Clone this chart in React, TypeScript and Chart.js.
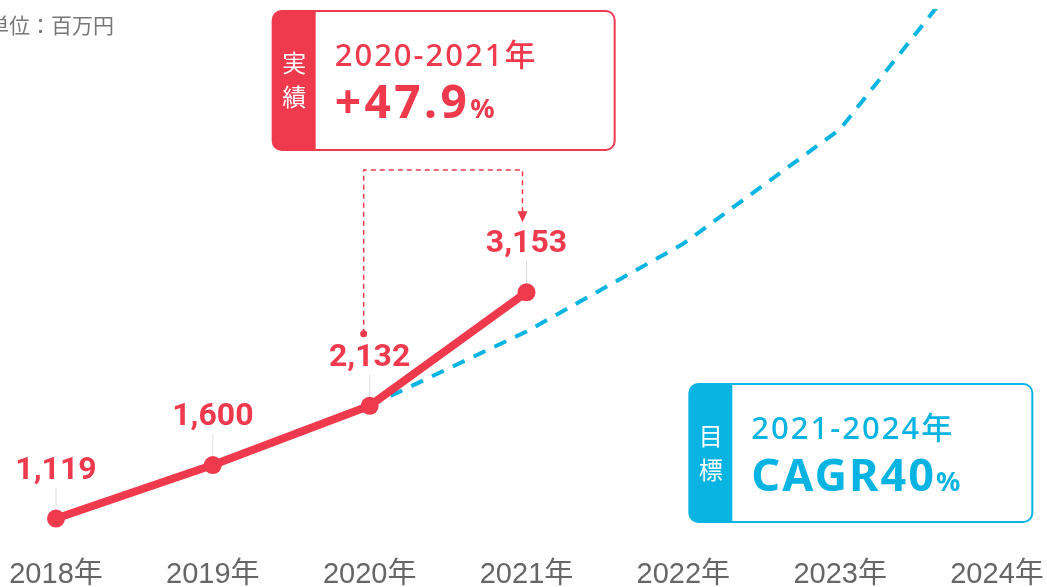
import { useEffect, useRef } from "react";
import { Chart, registerables } from "chart.js";

Chart.register(...registerables);

// ---- data ----
const categories = ["2018年", "2019年", "2020年", "2021年", "2022年", "2023年", "2024年"];
const actualValues = [1119, 1600, 2132, 3153, null, null, null];
const targetValues = [null, null, 2132, 2800, 3590, 4620, 6400];
const unitText = "単位：百万円";
const actualTag = ["実", "績"];
const actualPeriod = "2020-2021年";
const actualGrowth = "+47.9";
const targetTag = ["目", "標"];
const targetPeriod = "2021-2024年";
const targetGrowth = "CAGR40";
const percentSign = "%";

const RED = "#EE3A4C";
const CYAN = "#0AB4E2";
const JP = '"Noto Sans CJK JP", sans-serif';
const NS = '"Noto Sans", "Noto Sans CJK JP", sans-serif';

function roundRectPath(ctx: CanvasRenderingContext2D, x: number, y: number, w: number, h: number, r: number) {
  ctx.beginPath();
  ctx.moveTo(x + r, y);
  ctx.lineTo(x + w - r, y);
  ctx.arcTo(x + w, y, x + w, y + r, r);
  ctx.lineTo(x + w, y + h - r);
  ctx.arcTo(x + w, y + h, x + w - r, y + h, r);
  ctx.lineTo(x + r, y + h);
  ctx.arcTo(x, y + h, x, y + h - r, r);
  ctx.lineTo(x, y + r);
  ctx.arcTo(x, y, x + r, y, r);
  ctx.closePath();
}

function drawBox(
  ctx: CanvasRenderingContext2D,
  left: number,
  top: number,
  w: number,
  h: number,
  color: string,
  tag: string[],
  period: string,
  growth: string,
  growthSize: number,
  growthSpacing: number
) {
  const headerW = 43;
  ctx.save();
  roundRectPath(ctx, left, top, w, h, 9);
  ctx.fillStyle = "#fff";
  ctx.fill();
  ctx.save();
  ctx.clip();
  ctx.fillStyle = color;
  ctx.fillRect(left, top, headerW, h);
  ctx.restore();
  roundRectPath(ctx, left, top, w, h, 9);
  ctx.strokeStyle = color;
  ctx.lineWidth = 2;
  ctx.stroke();

  ctx.fillStyle = "#fff";
  ctx.font = `24px ${JP}`;
  ctx.textAlign = "center";
  ctx.textBaseline = "middle";
  ctx.fillText(tag[0], left + headerW / 2, top + 52);
  ctx.fillText(tag[1], left + headerW / 2, top + 86);

  ctx.fillStyle = color;
  ctx.textAlign = "left";
  ctx.textBaseline = "alphabetic";
  (ctx as any).letterSpacing = "2px";
  ctx.font = `500 31px ${NS}`;
  ctx.fillText(period, left + 62, top + 55);
  (ctx as any).letterSpacing = `${growthSpacing}px`;
  ctx.font = `bold ${growthSize}px ${NS}`;
  ctx.fillText(growth, left + 62, top + 107);
  const gw = ctx.measureText(growth).width;
  (ctx as any).letterSpacing = "0px";
  ctx.font = `bold 27px ${NS}`;
  ctx.fillText(percentSign, left + 62 + gw, top + 107);
  ctx.restore();
}

const annotationPlugin = {
  id: "annotations",
  beforeDatasetsDraw(chart: any) {
    const ctx: CanvasRenderingContext2D = chart.ctx;
    const meta = chart.getDatasetMeta(0);
    ctx.save();
    ctx.strokeStyle = "#dddddd";
    ctx.lineWidth = 1;
    meta.data.forEach((pt: any, i: number) => {
      if (actualValues[i] == null) return;
      ctx.beginPath();
      ctx.moveTo(pt.x, pt.y - 31);
      ctx.lineTo(pt.x, pt.y - 9);
      ctx.stroke();
    });
    ctx.restore();
  },
  afterDraw(chart: any) {
    const ctx: CanvasRenderingContext2D = chart.ctx;
    const xs = chart.scales.x;
    const meta = chart.getDatasetMeta(0);

    // unit
    ctx.save();
    ctx.fillStyle = "#777";
    ctx.font = `21px ${JP}`;
    ctx.textBaseline = "middle";
    ctx.textAlign = "left";
    ctx.fillText(unitText, -12, 25);
    ctx.restore();

    // value labels
    ctx.save();
    ctx.fillStyle = RED;
    ctx.font = 'bold 32px Roboto, sans-serif';
    ctx.textAlign = "center";
    ctx.textBaseline = "middle";
    meta.data.forEach((pt: any, i: number) => {
      const v = actualValues[i];
      if (v == null) return;
      ctx.fillText(v.toLocaleString("en-US"), pt.x, pt.y - 48);
    });
    ctx.restore();

    // boxes
    const x2020 = xs.getPixelForValue(2);
    const x2021 = xs.getPixelForValue(3);
    const x2022 = xs.getPixelForValue(4);
    const box1Left = x2020 - 97;
    const box1Top = 11;
    drawBox(ctx, box1Left, box1Top, 342, 139, RED, actualTag, actualPeriod, actualGrowth, 46, 3.5);
    drawBox(ctx, x2022 + 6, 384, 343, 138, CYAN, targetTag, targetPeriod, targetGrowth, 45, 2);

    // connector arrow
    const p2020 = meta.data[2];
    const p2021 = meta.data[3];
    const cx1 = x2020 - 6;
    const cx2 = x2021 - 4;
    const topY = box1Top + 139 + 20;
    const dotY = p2020.y - 72;
    const tipY = p2021.y - 70;
    ctx.save();
    ctx.strokeStyle = RED;
    ctx.fillStyle = RED;
    ctx.lineWidth = 1.5;
    ctx.setLineDash([5, 4]);
    ctx.beginPath();
    ctx.moveTo(cx1, dotY);
    ctx.lineTo(cx1, topY);
    ctx.lineTo(cx2, topY);
    ctx.lineTo(cx2, tipY - 10);
    ctx.stroke();
    ctx.setLineDash([]);
    ctx.beginPath();
    ctx.arc(cx1, dotY, 3.5, 0, Math.PI * 2);
    ctx.fill();
    ctx.beginPath();
    ctx.moveTo(cx2, tipY);
    ctx.lineTo(cx2 - 5, tipY - 11);
    ctx.lineTo(cx2 + 5, tipY - 11);
    ctx.closePath();
    ctx.fill();
    ctx.restore();
  },
};

export default function App() {
  const ref = useRef<HTMLCanvasElement | null>(null);
  useEffect(() => {
    if (!ref.current) return;
    const chart = new Chart(ref.current, {
      type: "line",
      data: {
        labels: categories,
        datasets: [
          {
            label: "実績",
            data: actualValues,
            borderColor: RED,
            backgroundColor: RED,
            borderWidth: 8,
            pointRadius: 9,
            pointHoverRadius: 9,
            pointBackgroundColor: RED,
            pointBorderWidth: 0,
            borderCapStyle: "round",
            borderJoinStyle: "round",
            spanGaps: false,
          },
          {
            label: "目標",
            data: targetValues,
            borderColor: CYAN,
            borderWidth: 4,
            borderDash: [13, 10],
            pointRadius: 0,
            borderJoinStyle: "round",
          },
        ],
      },
      options: {
        responsive: false,
        animation: false,
        events: [],
        layout: { padding: { left: 56, right: 50, top: 0, bottom: 0 } },
        plugins: { legend: { display: false }, tooltip: { enabled: false } },
        scales: {
          x: {
            offset: false,
            grid: { display: false, drawTicks: false },
            border: { display: false },
            ticks: {
              color: "#666",
              padding: 8,
              font: { size: 29, family: '"Liberation Sans", "Noto Sans CJK JP", sans-serif', lineHeight: 1 },
            },
            afterFit: (s: any) => {
              s.height = 35;
              s.paddingLeft = 0;
              s.paddingRight = 0;
            },
          },
          y: {
            display: false,
            min: 818,
            max: 5700,
          },
        },
      },
      plugins: [annotationPlugin],
    });
    return () => chart.destroy();
  }, []);
  return (
    <div style={{ position: "fixed", left: 0, top: 0, width: 1047, height: 587, background: "#fff" }}>
      <canvas ref={ref} width={1047} height={587} />
    </div>
  );
}
